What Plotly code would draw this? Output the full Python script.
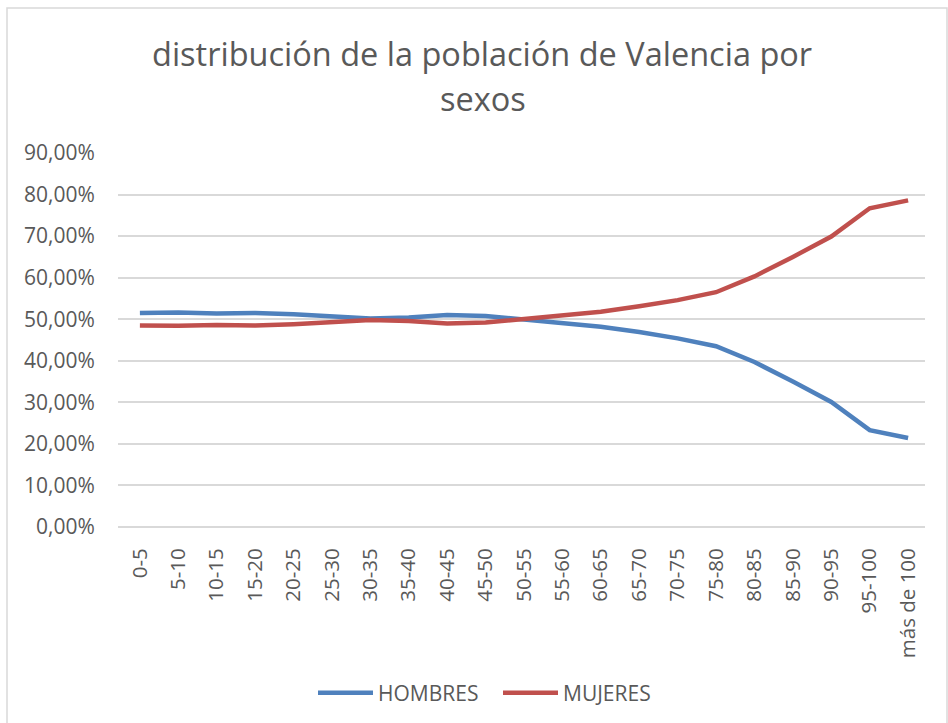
import plotly.graph_objects as go

categorias = ["0-5", "5-10", "10-15", "15-20", "20-25", "25-30", "30-35", "35-40",
              "40-45", "45-50", "50-55", "55-60", "60-65", "65-70", "70-75", "75-80",
              "80-85", "85-90", "90-95", "95-100", "más de 100"]
hombres = [0.515, 0.516, 0.514, 0.515, 0.512, 0.508, 0.502, 0.504, 0.510, 0.508, 0.500,
           0.490, 0.482, 0.469, 0.454, 0.435, 0.397, 0.350, 0.301, 0.233, 0.214]
mujeres = [0.485, 0.484, 0.486, 0.485, 0.488, 0.492, 0.498, 0.496, 0.490, 0.492, 0.500,
           0.510, 0.518, 0.531, 0.546, 0.565, 0.603, 0.650, 0.699, 0.767, 0.786]
y_ticks = [0, 0.1, 0.2, 0.3, 0.4, 0.5, 0.6, 0.7, 0.8, 0.9]
titulo_1 = "distribución de la población de Valencia por"
titulo_2 = "sexos"

FONT = "Open Sans"
GRAY = "#595959"
fig = go.Figure()
fig.add_trace(go.Scatter(x=categorias, y=hombres, name="HOMBRES", mode="lines",
                         line=dict(color="#4F81BD", width=4.5)))
fig.add_trace(go.Scatter(x=categorias, y=mujeres, name="MUJERES", mode="lines",
                         line=dict(color="#C0504D", width=4.5)))

L, R, T, B = 118, 23, 153, 196
W, H = 948, 723
pw, ph = W - L - R, H - T - B

def py(v):
    return (H - B - v) / ph

def px(v):
    return (v - L) / pw

fig.update_layout(
    width=W, height=H,
    margin=dict(l=L, r=R, t=T, b=B, autoexpand=False),
    paper_bgcolor="white", plot_bgcolor="white",
    separators=",.",
    font=dict(family=FONT, color=GRAY),
    xaxis=dict(type="category", tickangle=-90, showgrid=False, showline=False,
               ticks="outside", ticklen=12, tickcolor="rgba(0,0,0,0)",
               tickfont=dict(size=20.5, color=GRAY), automargin=False,
               range=[-0.57, 20.44]),
    yaxis=dict(range=[0, 0.9], tickvals=y_ticks, tickformat=".2%",
               showgrid=True, gridcolor="#d9d9d9", gridwidth=1.5,
               zeroline=True, zerolinecolor="#d9d9d9", zerolinewidth=1.5,
               showline=False, ticks="outside", ticklen=18,
               tickcolor="rgba(0,0,0,0)", automargin=False,
               tickfont=dict(size=21, color=GRAY)),
    legend=dict(orientation="h", x=px(313), xanchor="left", y=py(693),
                yanchor="middle", font=dict(size=21, color=GRAY),
                itemwidth=55, entrywidth=115),
    showlegend=True,
    annotations=[
        dict(text=titulo_1, xref="paper", yref="paper", x=px(482), y=py(53),
             xanchor="center", yanchor="middle", showarrow=False,
             font=dict(size=32.5, color=GRAY, family=FONT)),
        dict(text=titulo_2, xref="paper", yref="paper", x=px(483), y=py(98),
             xanchor="center", yanchor="middle", showarrow=False,
             font=dict(size=32.5, color=GRAY, family=FONT)),
    ],
    shapes=[dict(type="rect", xref="paper", yref="paper",
                 x0=px(7), x1=px(947), y0=py(740), y1=py(8),
                 line=dict(color="#d9d9d9", width=1.5), fillcolor="rgba(0,0,0,0)",
                 layer="below")],
)
fig.write_html("out.html", config={"displayModeBar": False},
               post_script="document.body.style.margin='0';")
